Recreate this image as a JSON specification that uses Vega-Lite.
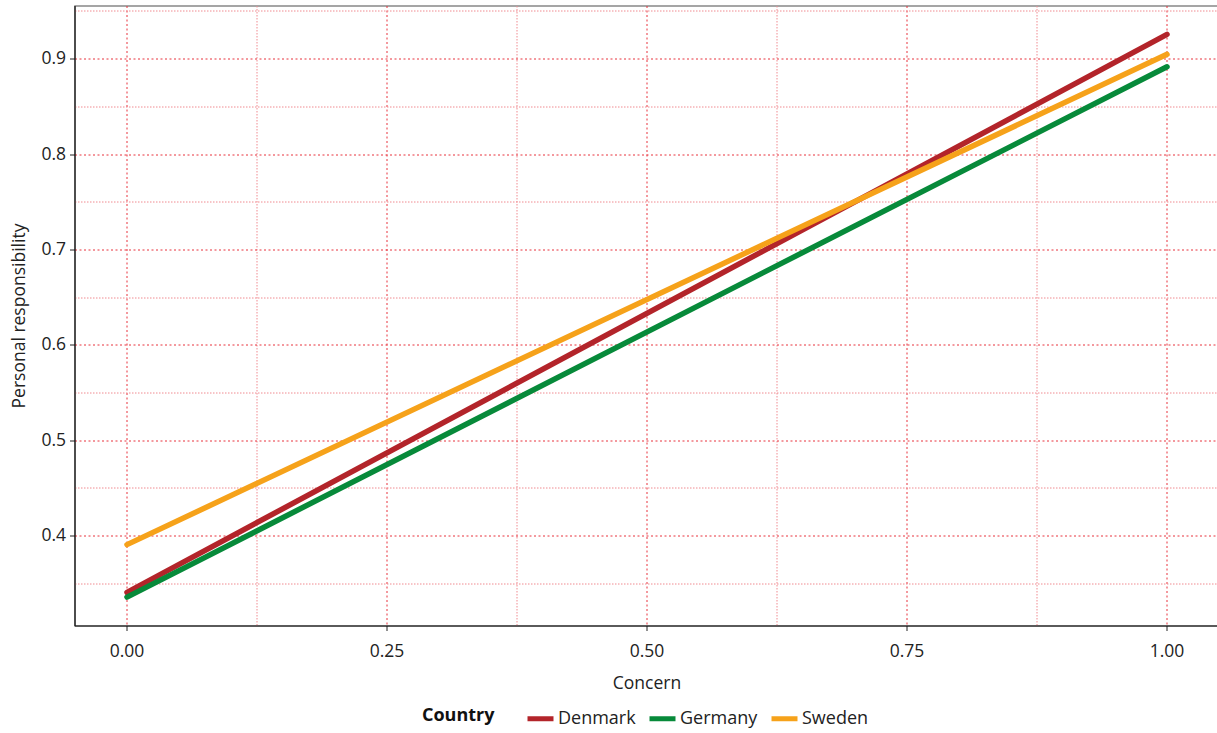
{
  "$schema": "https://vega.github.io/schema/vega-lite/v6.json",
  "width": 1144,
  "height": 620,
  "autosize": {"type": "none"},
  "padding": {"left": 75, "top": 6, "right": 0, "bottom": 107},
  "background": "white",
  "config": {
    "font": "Open Sans",
    "view": {"stroke": "#888", "strokeWidth": 1.5},
    "axis": {
      "labelFont": "Open Sans",
      "titleFont": "Open Sans",
      "labelFontSize": 17.5,
      "titleFontSize": 17.5,
      "titleFontWeight": "normal",
      "labelColor": "#222",
      "titleColor": "#222",
      "tickColor": "#222",
      "domainColor": "#111",
      "domainWidth": 1.2,
      "tickSize": 5,
      "gridColor": "#e8323c",
      "gridOpacity": 1
    }
  },
  "data": {
    "values": [
      {"Concern": 0, "Personal responsibility": 0.341, "Country": "Denmark"},
      {"Concern": 1, "Personal responsibility": 0.926, "Country": "Denmark"},
      {"Concern": 0, "Personal responsibility": 0.336, "Country": "Germany"},
      {"Concern": 1, "Personal responsibility": 0.892, "Country": "Germany"},
      {"Concern": 0, "Personal responsibility": 0.391, "Country": "Sweden"},
      {"Concern": 1, "Personal responsibility": 0.905, "Country": "Sweden"}
    ]
  },
  "resolve": {"axis": {"x": "independent", "y": "independent"}},
  "layer": [
    {
      "mark": {"type": "line", "opacity": 0},
      "encoding": {
        "x": {
          "field": "Concern", "type": "quantitative",
          "scale": {"domain": [-0.05, 1.05], "nice": false, "zero": false},
          "axis": {"orient": "bottom", "values": [0.125, 0.375, 0.625, 0.875], "labels": false, "ticks": false, "domain": false, "title": null, "grid": true, "gridColor": "#f08a90", "gridDash": [1.5, 1.5], "gridWidth": 1, "translate": 0}
        },
        "y": {
          "field": "Personal responsibility", "type": "quantitative",
          "scale": {"domain": [0.3057, 0.9557], "nice": false, "zero": false},
          "axis": {"orient": "left", "values": [0.35, 0.45, 0.55, 0.65, 0.75, 0.85, 0.95], "labels": false, "ticks": false, "domain": false, "title": null, "grid": true, "gridColor": "#f08a90", "gridDash": [1.5, 1.5], "gridWidth": 1, "translate": 0}
        },
        "detail": {"field": "Country"}
      }
    },
    {
      "mark": {"type": "line", "strokeWidth": 5.5, "strokeCap": "round"},
      "encoding": {
        "x": {
          "field": "Concern", "type": "quantitative",
          "scale": {"domain": [-0.05, 1.05], "nice": false, "zero": false},
          "axis": {"orient": "bottom", "values": [0, 0.25, 0.5, 0.75, 1], "format": ".2f", "title": "Concern", "grid": true, "gridColor": "#e8323c", "gridDash": [2, 2.5], "gridWidth": 1, "translate": 0, "labelPadding": 12, "titlePadding": 14}
        },
        "y": {
          "field": "Personal responsibility", "type": "quantitative",
          "scale": {"domain": [0.3057, 0.9557], "nice": false, "zero": false},
          "axis": {"orient": "left", "values": [0.4, 0.5, 0.6, 0.7, 0.8, 0.9], "format": ".1f", "title": "Personal responsibility", "grid": true, "gridColor": "#e8323c", "gridDash": [2, 2.5], "gridWidth": 1, "translate": 0, "labelPadding": 4, "titlePadding": 12}
        },
        "color": {
          "field": "Country", "type": "nominal",
          "scale": {"domain": ["Denmark", "Germany", "Sweden"], "range": ["#b3242a", "#078a3a", "#f6a21a"]},
          "legend": {
            "orient": "none", "direction": "horizontal", "legendX": 347, "legendY": 697,
            "titleOrient": "left", "title": "Country", "titleFontWeight": "bold", "titleFontSize": 18,
            "titleColor": "#111", "titlePadding": 30, "labelFontSize": 18, "labelColor": "#222",
            "symbolType": "stroke", "symbolStrokeWidth": 5, "symbolSize": 676, "columnPadding": 3, "labelOffset": 2
          }
        }
      }
    }
  ]
}
